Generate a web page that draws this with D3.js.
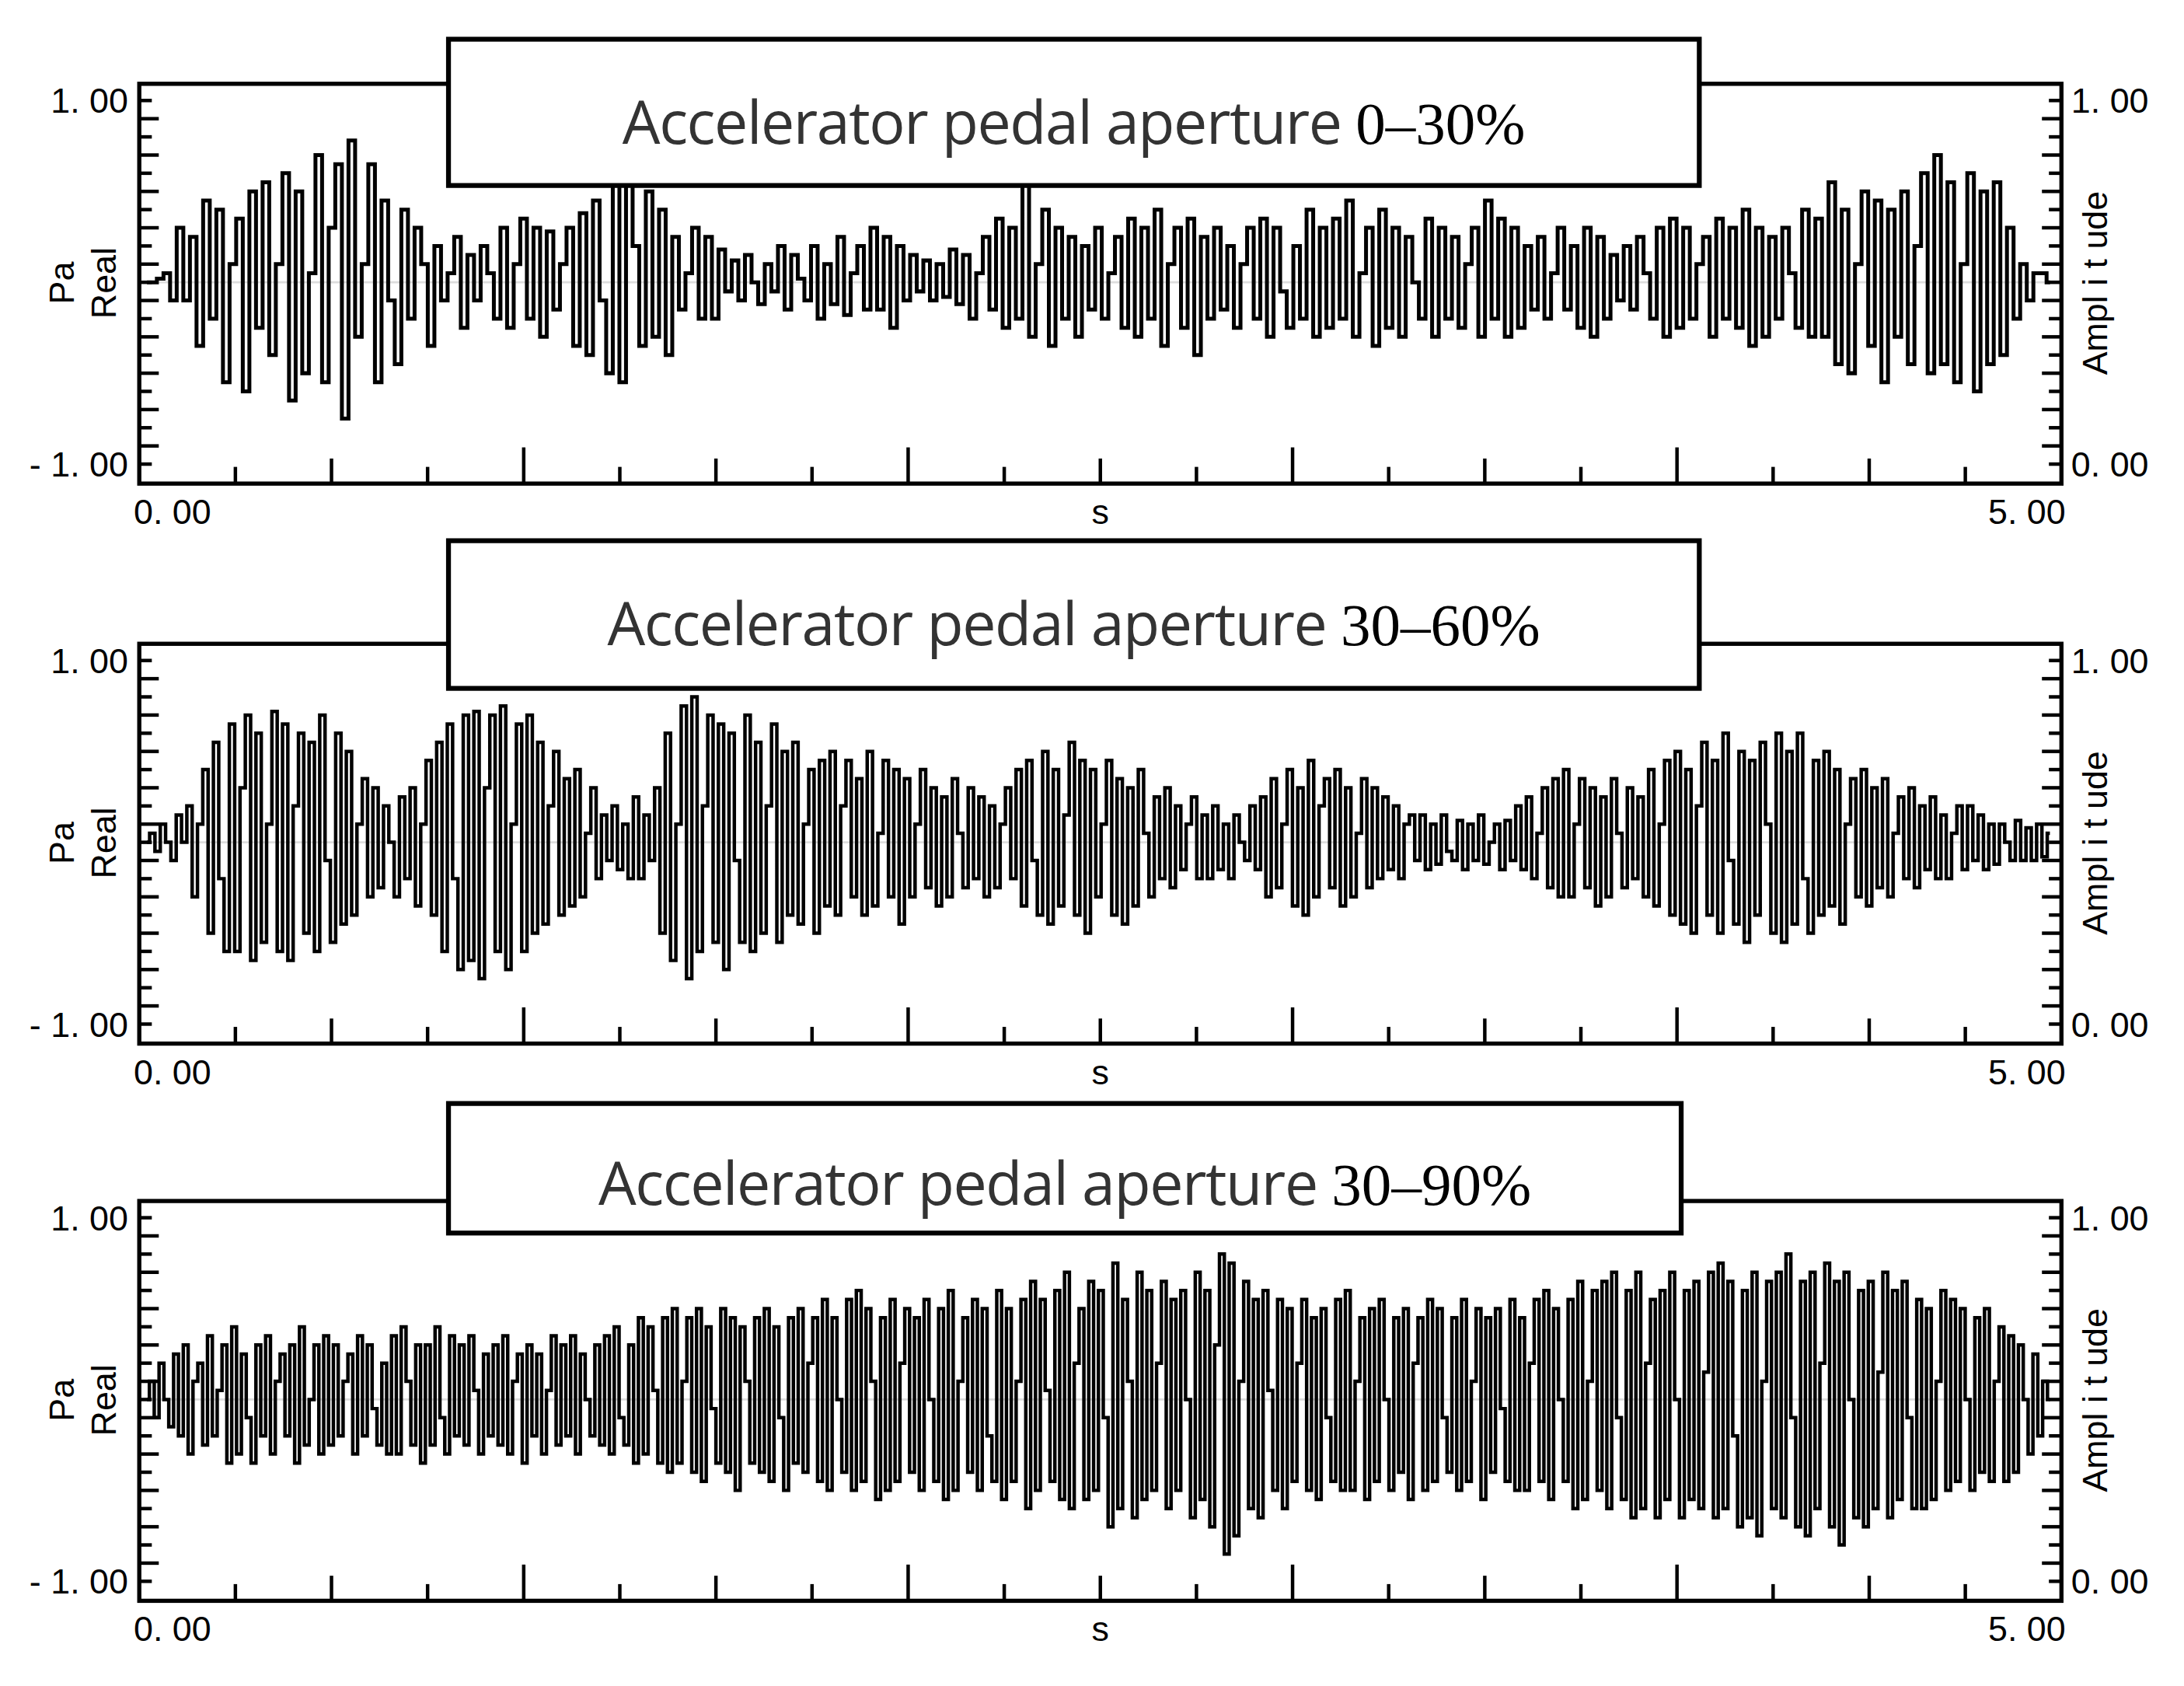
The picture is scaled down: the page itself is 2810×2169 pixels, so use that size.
<!DOCTYPE html>
<html>
<head>
<meta charset="utf-8">
<script src="https://cdn.jsdelivr.net/npm/d3@7"></script>
<style>
  body { margin: 0; background: #fff; }
  svg { display: block; }
</style>
</head>
<body>
<div id="chart"></div>
<script>
// panel titles
var titleText = ["Accelerator pedal aperture ", "Accelerator pedal aperture ", "Accelerator pedal aperture "];
var titleRange = ["0\u201330%", "30\u201360%", "30\u201390%"];

// axis tick labels
var leftLabels = ["1. 00", "- 1. 00"];
var rightLabels = ["1. 00", "0. 00"];
var xLabels = ["0. 00", "s", "5. 00"];

// signal values, spread evenly over 0..5 s
var sig1 = [0,0,0.02,0.05,-0.1,0.3,-0.1,0.25,-0.35,0.45,-0.2,0.4,-0.55,0.1,0.35,-0.6,0.5,-0.25,0.55,-0.4,0.1,0.6,-0.65,0.5,-0.5,0.05,0.7,-0.55,0.3,0.65,-0.75,
  0.78,-0.3,0.1,0.65,-0.55,0.45,-0.1,-0.45,0.4,-0.2,0.3,0.1,-0.35,0.2,-0.1,0.05,0.25,-0.25,0.15,-0.1,0.2,0.05,-0.2,0.3,-0.25,0.1,0.35,-0.2,0.3,-0.3,
  0.28,-0.15,0.1,0.3,-0.35,0.38,-0.4,0.45,-0.1,-0.5,0.55,-0.55,0.62,0.2,-0.35,0.5,-0.3,0.4,-0.4,0.25,-0.15,0.05,0.3,-0.2,0.25,-0.2,0.18,-0.05,0.12,
  -0.1,0.15,0,-0.12,0.1,-0.05,0.2,-0.15,0.15,0.02,-0.1,0.2,-0.2,0.1,-0.12,0.25,-0.18,0.05,0.2,-0.15,0.3,-0.15,0.25,-0.25,0.2,-0.1,0.15,-0.05,0.12,-0.1,
  0.1,-0.08,0.18,-0.12,0.15,-0.2,0.05,0.25,-0.15,0.35,-0.25,0.3,-0.2,0.55,-0.3,0.1,0.4,-0.35,0.3,-0.2,0.25,-0.3,0.2,-0.15,0.3,-0.2,0.05,0.25,-0.25,0.35,
  -0.3,0.3,-0.2,0.4,-0.35,0.1,0.3,-0.25,0.35,-0.4,0.25,-0.2,0.3,-0.15,0.2,-0.25,0.1,0.3,-0.2,0.35,-0.3,0.3,-0.05,-0.25,0.2,-0.2,0.4,-0.3,0.3,-0.25,0.35,
  -0.2,0.45,-0.3,0.05,0.3,-0.35,0.4,-0.25,0.3,-0.3,0.25,0,-0.2,0.35,-0.3,0.3,-0.2,0.25,-0.25,0.1,0.3,-0.3,0.45,-0.2,0.35,-0.3,0.3,-0.25,0.2,-0.15,0.25,
  -0.2,0.05,0.3,-0.15,0.2,-0.25,0.3,-0.3,0.25,-0.2,0.15,-0.1,0.2,-0.15,0.25,0.05,-0.2,0.3,-0.3,0.35,-0.25,0.3,-0.2,0.1,0.25,-0.3,0.35,-0.2,0.3,-0.25,
  0.4,-0.35,0.3,-0.3,0.25,-0.2,0.3,0.05,-0.25,0.4,-0.3,0.35,-0.3,0.55,-0.45,0.4,-0.5,0.1,0.5,-0.35,0.45,-0.55,0.4,-0.3,0.5,-0.45,0.2,0.6,-0.5,0.7,-0.45,
  0.55,-0.55,0.1,0.6,-0.6,0.5,-0.45,0.55,-0.4,0.3,-0.2,0.1,-0.1,0.05,0.05,0];

var sig2 = [0,0.05,-0.05,0.1,0,-0.1,0.15,0,0.2,-0.3,0.1,0.4,-0.5,0.55,-0.2,-0.6,0.65,-0.6,0.3,0.7,-0.65,0.6,-0.55,0.1,0.72,-0.6,0.65,-0.65,0.2,0.6,-0.5,
  0.55,-0.6,0.7,-0.1,-0.55,0.6,-0.45,0.5,-0.4,0.1,0.35,-0.3,0.3,-0.25,0.2,0,-0.3,0.25,-0.2,0.3,-0.35,0.1,0.45,-0.4,0.55,-0.6,0.65,-0.2,-0.7,0.7,-0.65,
  0.72,-0.75,0.3,0.7,-0.6,0.75,-0.7,0.1,0.65,-0.6,0.7,-0.5,0.55,-0.45,0.2,0.5,-0.4,0.35,-0.35,0.4,-0.3,0.05,0.3,-0.2,0.15,-0.1,0.2,-0.15,0.1,-0.2,0.25,
  -0.2,0.15,-0.1,0.3,-0.5,0.6,-0.65,0.1,0.75,-0.75,0.8,-0.6,0.2,0.7,-0.55,0.65,-0.7,0.6,-0.1,-0.55,0.7,-0.6,0.55,-0.5,0.2,0.65,-0.55,0.5,-0.4,0.55,-0.45,
  0.1,0.4,-0.5,0.45,-0.35,0.5,-0.4,0.2,0.45,-0.3,0.35,-0.4,0.5,-0.35,0.05,0.45,-0.3,0.4,-0.45,0.35,-0.3,0.1,0.4,-0.25,0.3,-0.35,0.25,-0.3,0.35,0.05,-0.25,
  0.3,-0.2,0.25,-0.3,0.2,-0.25,0.1,0.3,-0.2,0.4,-0.35,0.45,-0.1,-0.4,0.5,-0.45,0.4,-0.35,0.15,0.55,-0.4,0.45,-0.5,0.4,-0.3,0.1,0.45,-0.4,0.35,-0.45,0.3,
  -0.35,0.4,0.05,-0.3,0.25,-0.2,0.3,-0.25,0.2,-0.15,0.1,0.25,-0.2,0.15,-0.2,0.2,-0.15,0.1,-0.2,0.15,0,-0.1,0.2,-0.15,0.25,-0.3,0.35,-0.25,0.1,0.4,-0.35,
  0.3,-0.4,0.45,-0.3,0.2,0.35,-0.25,0.4,-0.35,0.3,-0.3,0.05,0.35,-0.25,0.3,-0.2,0.25,-0.15,0.2,-0.2,0.1,0.15,-0.1,0.15,-0.15,0.1,-0.12,0.15,-0.05,-0.1,
  0.12,-0.15,0.1,-0.1,0.15,-0.12,0,0.1,-0.15,0.12,-0.1,0.2,-0.15,0.25,-0.2,0.05,0.3,-0.25,0.35,-0.3,0.4,-0.3,0.1,0.35,-0.25,0.3,-0.35,0.25,-0.3,0.35,0.05,
  -0.25,0.3,-0.2,0.25,-0.3,0.4,-0.35,0.1,0.45,-0.4,0.5,-0.45,0.4,-0.5,0.2,0.55,-0.4,0.45,-0.5,0.6,-0.1,-0.45,0.5,-0.55,0.45,-0.4,0.55,0.1,-0.5,0.6,-0.55,
  0.5,-0.45,0.6,-0.2,-0.5,0.45,-0.4,0.5,-0.35,0.4,-0.45,0.1,0.35,-0.3,0.4,-0.35,0.3,-0.25,0.35,-0.3,0.05,0.25,-0.2,0.3,-0.25,0.2,-0.15,0.25,-0.2,0.15,
  -0.2,0.05,0.2,-0.15,0.2,-0.1,0.15,-0.15,0.1,-0.12,0.1,0,-0.1,0.12,-0.1,0.08,-0.1,0.1,-0.08,0.05];

var sig3 = [0,0.1,-0.1,0.2,0,-0.15,0.25,-0.2,0.3,-0.3,0.1,0.2,-0.25,0.35,-0.2,0.05,0.3,-0.35,0.4,-0.3,0.25,-0.1,-0.35,0.3,-0.2,0.35,-0.3,0.1,0.25,-0.2,
  0.3,-0.35,0.4,-0.25,0,0.3,-0.3,0.35,-0.25,0.3,-0.2,0.1,0.25,-0.3,0.35,-0.2,0.3,-0.05,-0.25,0.2,-0.3,0.35,-0.3,0.4,0.1,-0.25,0.3,-0.35,0.3,-0.25,0.4,
  -0.1,-0.3,0.35,-0.2,0.3,-0.25,0.35,0.05,-0.3,0.25,-0.2,0.3,-0.25,0.35,-0.3,0.1,0.25,-0.35,0.3,-0.2,0.25,-0.3,0.05,0.35,-0.25,0.3,-0.2,0.35,-0.3,0.25,
  0,-0.2,0.3,-0.25,0.35,-0.3,0.4,-0.1,-0.25,0.3,-0.35,0.45,-0.3,0.4,0.05,-0.35,0.45,-0.4,0.5,-0.35,0.1,0.45,-0.4,0.5,-0.45,0.4,-0.05,-0.35,0.5,-0.4,
  0.45,-0.5,0.4,0.1,-0.35,0.45,-0.4,0.5,-0.45,0.4,-0.1,-0.5,0.45,-0.35,0.5,-0.4,0.2,0.45,-0.45,0.55,-0.5,0.45,0,-0.4,0.55,-0.5,0.6,-0.45,0.5,0.1,-0.55,
  0.45,-0.5,0.55,-0.45,0.2,0.5,-0.4,0.45,-0.5,0.55,0,-0.45,0.5,-0.55,0.6,-0.5,0.1,0.45,-0.4,0.55,-0.5,0.5,-0.2,-0.45,0.6,-0.55,0.5,-0.45,0.1,0.55,-0.6,
  0.65,-0.5,0.55,0.05,-0.45,0.6,-0.55,0.7,-0.6,0.2,0.5,-0.55,0.65,-0.5,0.6,-0.1,-0.7,0.75,-0.6,0.55,0.1,-0.65,0.7,-0.55,0.6,-0.5,0.2,0.65,-0.6,0.55,-0.5,
  0.6,0,-0.65,0.7,-0.55,0.6,-0.7,0.3,0.8,-0.85,0.75,-0.75,0.1,0.65,-0.6,0.55,-0.65,0.6,0.05,-0.5,0.55,-0.6,0.5,-0.45,0.2,0.55,-0.5,0.45,-0.55,0.5,-0.1,
  -0.45,0.55,-0.5,0.6,-0.5,0.1,0.45,-0.55,0.5,-0.45,0.55,0,-0.5,0.45,-0.4,0.5,-0.55,0.2,0.45,-0.5,0.55,-0.45,0.5,-0.1,-0.4,0.45,-0.5,0.55,-0.45,0.1,0.5,
  -0.55,0.45,-0.4,0.5,-0.05,-0.45,0.55,-0.5,0.45,-0.5,0.2,0.55,-0.45,0.6,-0.55,0.5,0,-0.45,0.55,-0.6,0.65,-0.55,0.1,0.6,-0.5,0.65,-0.6,0.7,-0.1,-0.55,
  0.6,-0.65,0.7,-0.6,0.2,0.55,-0.65,0.6,-0.55,0.7,0,-0.65,0.6,-0.55,0.65,-0.6,0.15,0.7,-0.65,0.75,-0.6,0.65,-0.2,-0.7,0.6,-0.65,0.7,-0.75,0.1,0.65,-0.6,
  0.7,-0.65,0.8,-0.1,-0.7,0.65,-0.75,0.7,-0.6,0.2,0.75,-0.7,0.65,-0.8,0.7,0,-0.65,0.6,-0.7,0.65,-0.6,0.15,0.7,-0.65,0.6,-0.55,0.65,-0.1,-0.6,0.55,-0.6,
  0.5,-0.55,0.1,0.6,-0.5,0.55,-0.45,0.5,0,-0.5,0.45,-0.4,0.5,-0.45,0.1,0.4,-0.45,0.35,-0.4,0.3,0,-0.3,0.25,-0.2,0.1,0];

var signals = [sig1, sig2, sig3];

var W = 1568, H = 1210;
var svg = d3.select("#chart").append("svg")
    .attr("width", 2810).attr("height", 2169)
    .attr("viewBox", "0 0 " + W + " " + H);

var panels = [
  { top: 60,  box: [322, 28, 898, 105], titleY: 90 },
  { top: 462, box: [322, 388, 898, 106], titleY: 450 },
  { top: 862, box: [322, 792, 885, 93], titleY: 852 }
];

var left = 100, right = 1480, ph = 287;
var x = d3.scaleLinear().domain([0, 5]).range([left, right]);

panels.forEach(function(p, k) {
  var g = svg.append("g");
  var y = d3.scaleLinear().domain([-1, 1]).range([p.top + ph - 14, p.top + 12]);

  // zero line
  g.append("line")
      .attr("x1", left).attr("x2", right)
      .attr("y1", y(0)).attr("y2", y(0))
      .attr("stroke", "#ddd").attr("stroke-width", 1.5);

  var data = signals[k];
  var t = d3.scaleLinear().domain([0, data.length - 1]).range([0.02, 4.97]);
  var line = d3.line()
      .x(function(d, i) { return x(t(i)); })
      .y(function(d) { return y(d); })
      .curve(d3.curveStep);

  g.append("path")
      .datum(data)
      .attr("d", line)
      .attr("fill", "none")
      .attr("stroke", "#000")
      .attr("stroke-width", k === 0 ? 2.8 : 2.5)
      .attr("stroke-linejoin", "miter");

  // frame
  g.append("rect")
      .attr("x", left).attr("y", p.top)
      .attr("width", right - left).attr("height", ph)
      .attr("fill", "none").attr("stroke", "#000").attr("stroke-width", 3);

  // left ticks, inside
  var yTicks = d3.range(-1, 1.0001, 0.1);
  g.selectAll(".lt").data(yTicks).enter().append("line")
      .attr("x1", left).attr("x2", function(d, i) { return left + (i % 2 === 0 ? 9 : 14); })
      .attr("y1", function(d) { return y(d); }).attr("y2", function(d) { return y(d); })
      .attr("stroke", "#000").attr("stroke-width", 2.5);
  // right ticks, inside
  g.selectAll(".rt").data(yTicks).enter().append("line")
      .attr("x1", right).attr("x2", function(d, i) { return right - (i % 2 === 0 ? 9 : 14); })
      .attr("y1", function(d) { return y(d); }).attr("y2", function(d) { return y(d); })
      .attr("stroke", "#000").attr("stroke-width", 2.5);

  // bottom ticks every 0.25 s
  var xTicks = d3.range(0.25, 5, 0.25);
  g.selectAll(".bt").data(xTicks).enter().append("line")
      .attr("x1", function(d) { return x(d); }).attr("x2", function(d) { return x(d); })
      .attr("y1", p.top + ph)
      .attr("y2", function(d) { return p.top + ph - (d % 1 === 0 ? 26 : (d % 0.5 === 0 ? 18 : 12)); })
      .attr("stroke", "#000").attr("stroke-width", 2.5);

  var font = "Liberation Sans, Arial, sans-serif";
  var fs = 25;
  g.append("text").attr("x", 92).attr("y", y(1) + 9).attr("text-anchor", "end")
      .attr("font-family", font).attr("font-size", fs).text(leftLabels[0]);
  g.append("text").attr("x", 92).attr("y", y(-1) + 9).attr("text-anchor", "end")
      .attr("font-family", font).attr("font-size", fs).text(leftLabels[1]);
  g.append("text").attr("x", 1487).attr("y", y(1) + 9)
      .attr("font-family", font).attr("font-size", fs).text(rightLabels[0]);
  g.append("text").attr("x", 1487).attr("y", y(-1) + 9)
      .attr("font-family", font).attr("font-size", fs).text(rightLabels[1]);

  g.append("text").attr("x", 96).attr("y", p.top + ph + 29)
      .attr("font-family", font).attr("font-size", fs).text(xLabels[0]);
  g.append("text").attr("x", x(2.5)).attr("y", p.top + ph + 29).attr("text-anchor", "middle")
      .attr("font-family", font).attr("font-size", fs).text(xLabels[1]);
  g.append("text").attr("x", 1483).attr("y", p.top + ph + 29).attr("text-anchor", "end")
      .attr("font-family", font).attr("font-size", fs).text(xLabels[2]);

  var cy = p.top + 143;
  g.append("text").attr("transform", "translate(53," + cy + ") rotate(-90)")
      .attr("text-anchor", "middle").attr("font-family", font).attr("font-size", fs).text("Pa");
  g.append("text").attr("transform", "translate(83," + cy + ") rotate(-90)")
      .attr("text-anchor", "middle").attr("font-family", font).attr("font-size", fs).text("Real");
  g.append("text").attr("transform", "translate(1513," + cy + ") rotate(-90)")
      .attr("text-anchor", "middle").attr("font-family", font).attr("font-size", fs)
      .text("Ampl i t ude");

  // title box
  var b = p.box;
  g.append("rect")
      .attr("x", b[0]).attr("y", b[1]).attr("width", b[2]).attr("height", b[3])
      .attr("fill", "#fff").attr("stroke", "#000").attr("stroke-width", 3.5);
  svg.append("clipPath").attr("id", "clip" + k)
    .append("rect").attr("x", b[0]).attr("y", b[1]).attr("width", b[2]).attr("height", b[3] - 2);
  var tt = g.append("text")
      .attr("clip-path", "url(#clip" + k + ")")
      .attr("x", b[0] + b[2] / 2).attr("y", p.titleY + 13)
      .attr("text-anchor", "middle").attr("font-size", 43);
  tt.append("tspan").attr("font-family", "Open Sans, sans-serif").attr("fill", "#333")
      .attr("letter-spacing", -0.8).text(titleText[k]);
  tt.append("tspan").attr("font-family", "Liberation Serif, serif").attr("fill", "#000")
      .text(titleRange[k]);
});
</script>
</body>
</html>
